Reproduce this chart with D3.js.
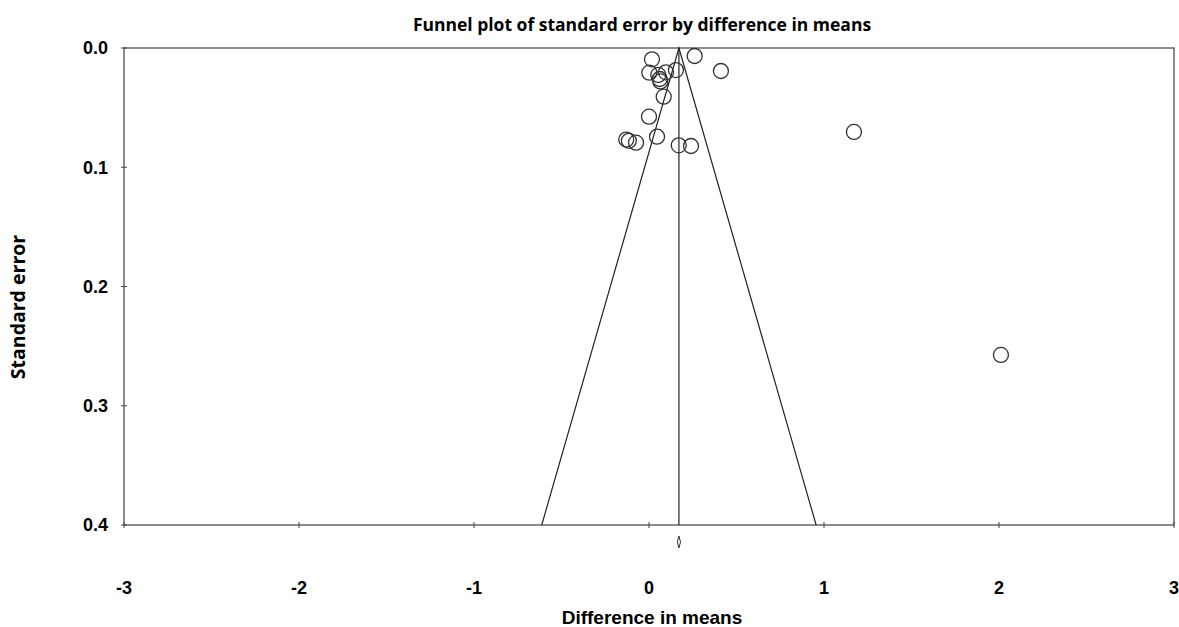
<!DOCTYPE html>
<html>
<head>
<meta charset="utf-8">
<script src="https://cdn.jsdelivr.net/npm/d3@7"></script>
<style>
  body { margin: 0; background: #fff; }
  svg { display: block; }
  .tick-label, .x-title { font-family: "Liberation Sans", Arial, sans-serif; font-weight: bold; }
  .tick-label { font-size: 18px; }
  .x-title { font-size: 19px; }
  .title, .y-title { font-family: "Open Sans", sans-serif; font-weight: bold; }
  .title { font-size: 17.5px; }
  .y-title { font-size: 19.5px; }
</style>
</head>
<body>
<svg id="funnel"></svg>
<script>
// Study estimates
const diffMeans = [0.017, 0.261, 0.411, 0.002, 0.053, 0.097, 0.154, 0.065, 0.061, 0.084,
                   0.000, 0.046, -0.130, -0.115, -0.074, 0.170, 0.240, 1.171, 2.011];
const stdErrors = [0.0095, 0.0067, 0.0193, 0.0207, 0.0226, 0.0204, 0.0185, 0.0280, 0.0260, 0.0408,
                   0.0576, 0.0744, 0.0768, 0.0778, 0.0794, 0.0816, 0.0822, 0.0704, 0.2574];
const pooledMean = 0.171;
const pooledCI = [0.162, 0.180];
const xTicks = [-3, -2, -1, 0, 1, 2, 3];
const yTicks = [0.0, 0.1, 0.2, 0.3, 0.4];

const W = 1179, H = 627;
const margin = { top: 48, right: 5, bottom: 102, left: 124 };
const width = W - margin.left - margin.right;
const height = H - margin.top - margin.bottom;

const svg = d3.select('#funnel').attr('width', W).attr('height', H);
const g = svg.append('g').attr('transform', `translate(${margin.left},${margin.top})`);

const x = d3.scaleLinear().domain([-3, 3]).range([0, width]);
const y = d3.scaleLinear().domain([0, 0.4]).range([0, height]);

// plot frame
g.append('rect')
    .attr('width', width).attr('height', height)
    .attr('fill', 'none').attr('stroke', '#666').attr('stroke-width', 1.5);

// x ticks crossing the bottom edge
g.selectAll('.xtick').data(xTicks).enter().append('line')
    .attr('x1', d => x(d)).attr('x2', d => x(d))
    .attr('y1', height - 3).attr('y2', height + 3)
    .attr('stroke', '#444');
g.selectAll('.xlab').data(xTicks).enter().append('text')
    .attr('class', 'tick-label')
    .attr('x', d => x(d)).attr('y', height + 69)
    .attr('text-anchor', 'middle')
    .text(d => d);

// y ticks
g.selectAll('.ytick').data(yTicks).enter().append('line')
    .attr('x1', -3).attr('x2', 3)
    .attr('y1', d => y(d)).attr('y2', d => y(d))
    .attr('stroke', '#444');
g.selectAll('.ylab').data(yTicks).enter().append('text')
    .attr('class', 'tick-label')
    .attr('x', -16).attr('y', d => y(d)).attr('dy', '0.35em')
    .attr('text-anchor', 'end')
    .text(d => d.toFixed(1));

// funnel: pooled mean +/- 1.96 SE
const seMax = 0.4;
g.append('path')
    .attr('d', d3.line()([
        [x(pooledMean - 1.96 * seMax), y(seMax)],
        [x(pooledMean), y(0)],
        [x(pooledMean + 1.96 * seMax), y(seMax)]
    ]))
    .attr('fill', 'none').attr('stroke', '#222').attr('stroke-width', 1.2);
g.append('line')
    .attr('x1', x(pooledMean)).attr('x2', x(pooledMean))
    .attr('y1', y(0)).attr('y2', y(seMax))
    .attr('stroke', '#222').attr('stroke-width', 1.2);

// pooled estimate diamond under the axis
const dy = height + 17;
g.append('path')
    .attr('d', d3.line()([
        [x(pooledCI[0]), dy],
        [x(pooledMean), dy - 6],
        [x(pooledCI[1]), dy],
        [x(pooledMean), dy + 6]
    ]) + 'Z')
    .attr('fill', 'none').attr('stroke', '#333').attr('stroke-width', 1);

// study points
g.selectAll('circle').data(diffMeans).enter().append('circle')
    .attr('cx', d => x(d))
    .attr('cy', (d, i) => y(stdErrors[i]))
    .attr('r', 7.5)
    .attr('fill', 'none')
    .attr('stroke', '#333')
    .attr('stroke-width', 1.3);

// titles
svg.append('text')
    .attr('class', 'title')
    .attr('x', 642).attr('y', 31)
    .attr('text-anchor', 'middle')
    .text('Funnel plot of standard error by difference in means');
svg.append('text')
    .attr('class', 'x-title')
    .attr('x', 652).attr('y', 624)
    .attr('text-anchor', 'middle')
    .text('Difference in means');
svg.append('text')
    .attr('class', 'y-title')
    .attr('transform', 'translate(25,307) rotate(-90)')
    .attr('text-anchor', 'middle')
    .text('Standard error');
</script>
</body>
</html>
